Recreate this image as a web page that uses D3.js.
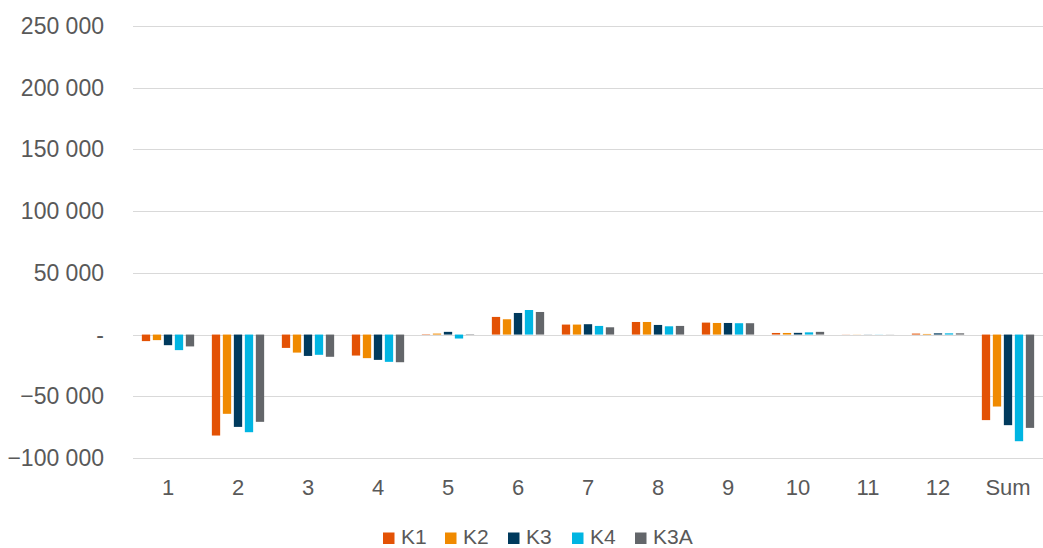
<!DOCTYPE html>
<html>
<head>
<meta charset="utf-8">
<script src="https://cdn.jsdelivr.net/npm/d3@7"></script>
<style>
  html, body { margin: 0; padding: 0; background: #fff; }
  svg { display: block; }
</style>
</head>
<body>
<svg id="chart" width="1043" height="548"></svg>
<script>
const categories = ["1","2","3","4","5","6","7","8","9","10","11","12","Sum"];
const seriesNames = ["K1","K2","K3","K4","K3A"];
const K1  = [-5300, -81800, -10800, -17000,   300, 14300, 8100, 10200, 9700, 1300, 100,  800, -69300];
const K2  = [-4500, -64200, -14600, -19100,   800, 12400, 8100, 10200, 9400, 1300, 100,  500, -58300];
const K3  = [-8600, -74800, -17300, -20500,  2200, 17500, 8400,  7800, 9400, 1400, 100, 1000, -73400];
const K4  = [-12600,-79100, -16400, -22100, -3200, 19900, 7000,  6700, 9200, 1800, 100, 1000, -86400];
const K3A = [-9600, -70700, -18000, -22400,   300, 18300, 5900,  7000, 9200, 2200, 100, 1000, -75600];
const seriesValues = [K1, K2, K3, K4, K3A];
const colors = ["#E35205", "#F08A00", "#003A5D", "#00B5E2", "#63666A"];
const yTicks = [-100000, -50000, 0, 50000, 100000, 150000, 200000, 250000];

(function () {
const svg = d3.select("#chart");
const mLeft = 133, mRight = 1043, mTop = 26, mBottom = 458;
const font = "'Liberation Sans', Arial, sans-serif";
const textColor = "#595959";

const y = d3.scaleLinear().domain([-100000, 250000]).range([mBottom, mTop]);
const x0 = d3.scaleBand().domain(categories).range([mLeft, mRight]).paddingInner(0.253).paddingOuter(0.1265);
const x1 = d3.scaleBand().domain(seriesNames).range([0, x0.bandwidth()]).paddingInner(0.245).paddingOuter(0);

// grid lines
svg.append("g").selectAll("line").data(yTicks).join("line")
  .attr("x1", mLeft).attr("x2", mRight)
  .attr("y1", d => Math.round(y(d)) + 0.5).attr("y2", d => Math.round(y(d)) + 0.5)
  .attr("stroke", "#d9d9d9").attr("stroke-width", 1);

// y labels
const fmt = d => d === 0 ? "-" : d3.format(",")(d).replace(/,/g, " ");
svg.append("g").selectAll("text").data(yTicks).join("text")
  .attr("x", 104).attr("y", d => y(d))
  .attr("dy", "0.35em")
  .attr("text-anchor", "end")
  .attr("font-family", font).attr("font-size", 23)
  .attr("fill", textColor)
  .text(fmt);

// bars
const groups = svg.append("g").selectAll("g").data(categories).join("g")
  .attr("transform", d => `translate(${x0(d)},0)`);
groups.selectAll("rect")
  .data((c, i) => seriesNames.map((s, j) => ({ s, j, v: seriesValues[j][i] })))
  .join("rect")
  .attr("x", d => x1(d.s))
  .attr("width", x1.bandwidth())
  .attr("y", d => Math.min(y(d.v), y(0)))
  .attr("height", d => Math.abs(y(d.v) - y(0)))
  .attr("fill", d => colors[d.j]);

// x labels
svg.append("g").selectAll("text").data(categories).join("text")
  .attr("x", d => x0(d) + x0.bandwidth() / 2)
  .attr("y", 495)
  .attr("text-anchor", "middle")
  .attr("font-family", font).attr("font-size", 22)
  .attr("fill", textColor)
  .text(d => d);

// legend
const legendX = [383, 445, 508, 572, 635];
const lg = svg.append("g").selectAll("g").data(seriesNames).join("g")
  .attr("transform", (d, i) => `translate(${legendX[i]},0)`);
lg.append("rect").attr("x", 0).attr("y", 532.5).attr("width", 11.5).attr("height", 11.5)
  .attr("fill", (d, i) => colors[i]);
lg.append("text").attr("x", 18).attr("y", 543.5)
  .attr("font-family", font).attr("font-size", 21)
  .attr("fill", textColor)
  .text(d => d);
})();
</script>
</body>
</html>
